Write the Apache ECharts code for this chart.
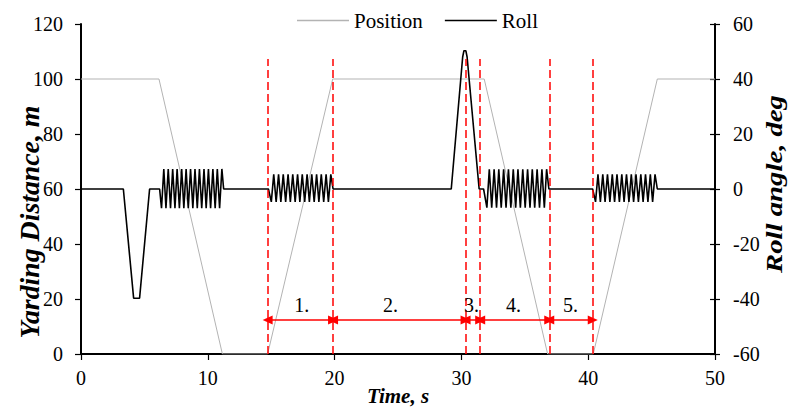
<!DOCTYPE html>
<html>
<head>
<meta charset="utf-8">
<script src="https://cdn.jsdelivr.net/npm/echarts@6/dist/echarts.min.js"></script>
<style>html,body{margin:0;padding:0;background:#fff;}#c{width:788px;height:407px;}</style>
</head>
<body>
<div id="c"></div>
<script>
// ---- data ----
const positionData = [[0,100],[6.15,100],[11.15,0],[14.72,0],[19.85,100],[31.8,100],[36.8,0],[40.4,0],[45.45,100],[50,100]];
const rollData = [
[0,0],[3.34,0],[4.15,-39.7],[4.62,-39.7],[5.41,0],[6.2,0],
[6.35,-7],[6.53,7.3],[6.70,-7],[6.88,7.3],[7.06,-7],[7.23,7.3],[7.41,-7],[7.58,7.3],[7.76,-7],[7.94,7.3],[8.11,-7],[8.29,7.3],[8.46,-7],[8.64,7.3],[8.82,-7],[8.99,7.3],[9.17,-7],[9.34,7.3],[9.52,-7],[9.70,7.3],[9.87,-7],[10.05,7.3],[10.22,-7],[10.40,7.3],[10.58,-7],[10.75,7.3],[10.93,-7],[11.11,7.3],[11.25,0],
[14.78,0],
[15.01,-4.7],[15.20,5.3],[15.39,-4.7],[15.58,5.3],[15.76,-4.7],[15.95,5.3],[16.14,-4.7],[16.33,5.3],[16.51,-4.7],[16.70,5.3],[16.89,-4.7],[17.08,5.3],[17.26,-4.7],[17.45,5.3],[17.64,-4.7],[17.83,5.3],[18.01,-4.7],[18.20,5.3],[18.39,-4.7],[18.58,5.3],[18.76,-4.7],[18.95,5.3],[19.14,-4.7],[19.33,5.3],[19.51,-4.7],[19.70,5.3],[19.88,0],
[29.2,0],[30.1,48],[30.2,50.3],[30.35,50.3],[30.45,48],[31.4,0],[31.75,0],
[32.01,-6.8],[32.20,7.2],[32.39,-6.8],[32.58,7.2],[32.77,-6.8],[32.95,7.2],[33.14,-6.8],[33.33,7.2],[33.52,-6.8],[33.71,7.2],[33.90,-6.8],[34.09,7.2],[34.28,-6.8],[34.46,7.2],[34.65,-6.8],[34.84,7.2],[35.03,-6.8],[35.22,7.2],[35.41,-6.8],[35.59,7.2],[35.78,-6.8],[35.97,7.2],[36.16,-6.8],[36.35,7.2],[36.54,-6.8],[36.72,7.2],[36.9,0],
[40.35,0],
[40.58,-4.7],[40.77,5.3],[40.96,-4.7],[41.15,5.3],[41.33,-4.7],[41.52,5.3],[41.71,-4.7],[41.90,5.3],[42.08,-4.7],[42.27,5.3],[42.46,-4.7],[42.65,5.3],[42.83,-4.7],[43.02,5.3],[43.21,-4.7],[43.40,5.3],[43.58,-4.7],[43.77,5.3],[43.96,-4.7],[44.15,5.3],[44.33,-4.7],[44.52,5.3],[44.71,-4.7],[44.90,5.3],[45.08,-4.7],[45.27,5.3],[45.45,0],[50,0]
];
const dashTimes = [14.72, 19.88, 30.33, 31.48, 36.93, 40.36];
const dashTop = 107.3;
const phaseLabels = ['1.', '2.', '3.', '4.', '5.'];
const phaseLabelX = [17.4, 24.4, 30.8, 34.1, 38.6];
const phaseLabelY = 17.8;
const arrowY = 12.4;
const xTicks = {min: 0, max: 50, interval: 10};
const leftTicks = {min: 0, max: 120, interval: 20};
const rightTicks = {min: -60, max: 60, interval: 20};

// ---- chart ----
const FONT = '"Liberation Serif", "Times New Roman", serif';
const chart = echarts.init(document.getElementById('c'), null, {renderer: 'svg'});

const dashLines = dashTimes.map(t => [{coord: [t, 0]}, {coord: [t, dashTop]}]);
const arrows = [];
for (let i = 0; i < dashTimes.length - 1; i++) {
  arrows.push([{coord: [dashTimes[i], arrowY]}, {coord: [dashTimes[i + 1], arrowY]}]);
}

const axisLineStyle = {color: '#000', width: 2};
const axisLabelStyle = {color: '#000', fontFamily: FONT, fontSize: 20};

const titles = [
  {type: 'text', id: 'tx', x: 398, y: 396, silent: true,
    style: {text: 'Time, s', font: 'italic bold 21px ' + FONT, fill: '#000', align: 'center', verticalAlign: 'middle'}},
  {type: 'text', id: 'ty1', x: 30, y: 222, rotation: Math.PI / 2, scaleX: 1.03, silent: true,
    style: {text: 'Yarding Distance, m', font: 'italic bold 27px ' + FONT, fill: '#000', align: 'center', verticalAlign: 'middle'}},
  {type: 'text', id: 'ty2', x: 774, y: 184, rotation: Math.PI / 2, scaleX: 1.25, silent: true,
    style: {text: 'Roll angle, deg', font: 'italic bold 23px ' + FONT, fill: '#000', align: 'center', verticalAlign: 'middle'}}
];

chart.setOption({
  animation: false,
  grid: {left: 81, right: 73, top: 24, bottom: 53},
  legend: {
    left: 297, top: 10, padding: 0, itemWidth: 52, itemHeight: 1.6, itemGap: 22,
    data: [
      {name: 'Position', icon: 'rect', itemStyle: {color: '#b3b3b3'}},
      {name: 'Roll', icon: 'rect', itemStyle: {color: '#000'}}
    ],
    textStyle: {color: '#000', fontFamily: FONT, fontSize: 21}
  },
  xAxis: {
    type: 'value', min: xTicks.min, max: xTicks.max, interval: xTicks.interval,
    splitLine: {show: false},
    axisLine: {onZero: false, lineStyle: axisLineStyle},
    axisTick: {length: 6, lineStyle: {color: '#000', width: 1.2}},
    axisLabel: Object.assign({margin: 14}, axisLabelStyle)
  },
  yAxis: [
    {
      type: 'value', position: 'left', min: leftTicks.min, max: leftTicks.max, interval: leftTicks.interval,
      splitLine: {show: false},
      axisLine: {show: true, lineStyle: axisLineStyle},
      axisTick: {show: true, length: 6, lineStyle: {color: '#000', width: 1.2}},
      axisLabel: Object.assign({margin: 18}, axisLabelStyle)
    },
    {
      type: 'value', position: 'right', min: rightTicks.min, max: rightTicks.max, interval: rightTicks.interval,
      splitLine: {show: false},
      axisLine: {show: true, lineStyle: axisLineStyle},
      axisTick: {show: true, length: 5, lineStyle: {color: '#000', width: 1.2}},
      axisLabel: Object.assign({margin: 18}, axisLabelStyle)
    },
    {
      type: 'value', position: 'right', min: rightTicks.min, max: rightTicks.max, interval: rightTicks.interval,
      splitLine: {show: false},
      axisLine: {show: false},
      axisTick: {show: true, inside: true, length: 5, lineStyle: {color: '#000', width: 1.2}},
      axisLabel: {show: false}
    }
  ],
  series: [
    {
      name: 'Position', type: 'line', xAxisIndex: 0, yAxisIndex: 0,
      data: positionData, symbol: 'none', showSymbol: false,
      lineStyle: {color: '#b3b3b3', width: 1}, itemStyle: {color: '#b3b3b3'},
      silent: true, z: 2
    },
    {
      name: 'Roll', type: 'line', xAxisIndex: 0, yAxisIndex: 1,
      data: rollData, symbol: 'none', showSymbol: false,
      lineStyle: {color: '#000', width: 1.6}, itemStyle: {color: '#000'},
      silent: true, z: 3
    },
    {
      name: 'dashes', type: 'line', xAxisIndex: 0, yAxisIndex: 0,
      data: [], symbol: 'none', silent: true, z: 5,
      markLine: {
        silent: true, symbol: ['none', 'none'], label: {show: false},
        lineStyle: {color: '#ff0000', width: 1.5, type: [8, 4], opacity: 1},
        emphasis: {disabled: true},
        data: dashLines
      }
    },
    {
      name: 'arrows', type: 'line', xAxisIndex: 0, yAxisIndex: 0,
      data: [], symbol: 'none', silent: true, z: 5,
      markLine: {
        silent: true, symbol: ['triangle', 'triangle'], symbolSize: [9, 10], label: {show: false},
        lineStyle: {color: '#ff0000', width: 1.5, type: 'solid', opacity: 1},
        itemStyle: {color: '#ff0000'},
        emphasis: {disabled: true},
        data: arrows
      }
    }
  ],
  graphic: titles
});

// phase labels placed through the chart's own scales
const phaseTexts = phaseLabels.map((s, i) => {
  const p = chart.convertToPixel({xAxisIndex: 0, yAxisIndex: 0}, [phaseLabelX[i], phaseLabelY]);
  return {type: 'text', id: 'ph' + i, x: p[0], y: p[1], silent: true, z: 10,
    style: {text: s, font: '20px ' + FONT, fill: '#000', align: 'center', verticalAlign: 'middle'}};
});
chart.setOption({graphic: titles.concat(phaseTexts)});
</script>
</body>
</html>
